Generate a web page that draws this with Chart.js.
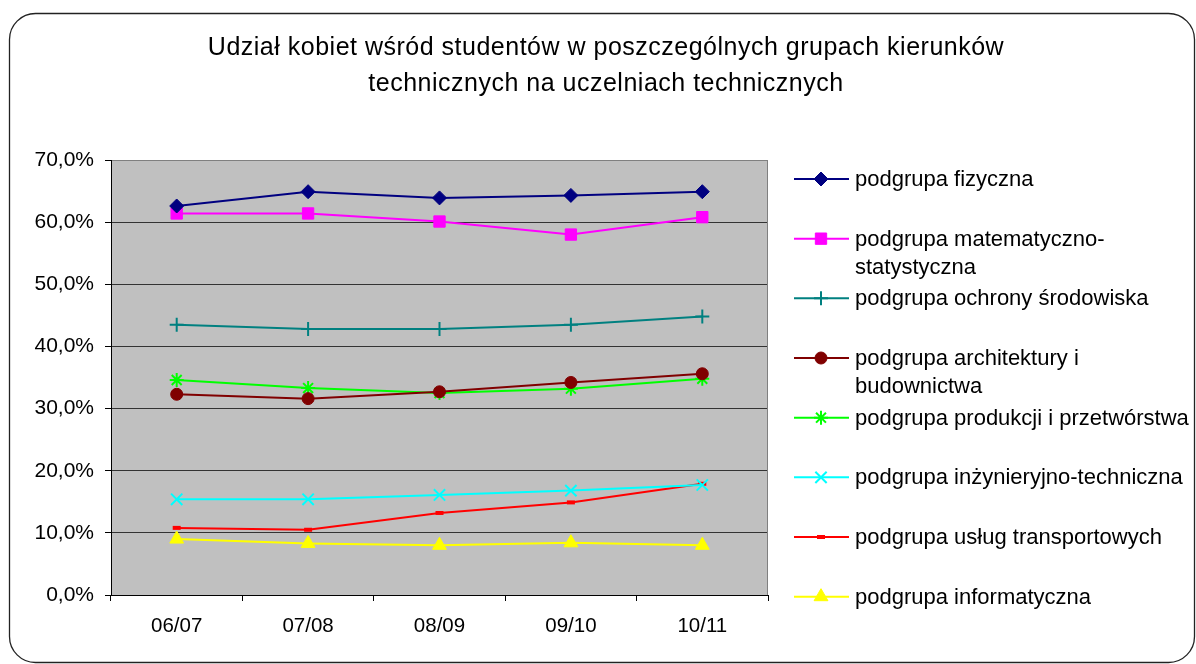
<!DOCTYPE html>
<html>
<head>
<meta charset="utf-8">
<script src="https://cdn.jsdelivr.net/npm/chart.js@4/dist/chart.umd.min.js"></script>
<style>
  html, body { margin: 0; padding: 0; background: #fff; }
  #wrap { width: 1196px; height: 664px; }
</style>
</head>
<body>
<div id="wrap"><canvas id="womenChart" width="1196" height="664"></canvas></div>
<script>
const FONT = "'Liberation Sans', Arial, sans-serif";

const titleLines = [
    'Udział kobiet wśród studentów w poszczególnych grupach kierunków',
    'technicznych na uczelniach technicznych'
];

const categories = ['06/07', '07/08', '08/09', '09/10', '10/11'];
const yTicks = [0, 10, 20, 30, 40, 50, 60, 70];

// udział kobiet w %
const fizyczna = [62.6, 64.9, 63.9, 64.3, 64.9];
const matematyczna = [61.4, 61.4, 60.1, 58.0, 60.8];
const ochronaSrodowiska = [43.5, 42.8, 42.8, 43.5, 44.8];
const architektura = [32.3, 31.6, 32.7, 34.2, 35.6];
const produkcja = [34.6, 33.3, 32.5, 33.2, 34.8];
const inzynieryjna = [15.4, 15.4, 16.1, 16.8, 17.7];
const transport = [10.8, 10.5, 13.2, 14.9, 17.9];
const informatyka = [9.0, 8.3, 8.0, 8.4, 8.0];

const seriesNames = [
    ['podgrupa fizyczna'],
    ['podgrupa matematyczno-', 'statystyczna'],
    ['podgrupa ochrony środowiska'],
    ['podgrupa architektury i', 'budownictwa'],
    ['podgrupa produkcji i przetwórstwa'],
    ['podgrupa inżynieryjno-techniczna'],
    ['podgrupa usług transportowych'],
    ['podgrupa informatyczna']
];

function series(name, data, color, style, radius, bw) {
    return {
        label: name.join(' '),
        lines: name,
        data: data,
        borderColor: color,
        backgroundColor: color,
        borderWidth: 2,
        pointStyle: style,
        pointRadius: radius,
        pointHoverRadius: radius,
        pointBorderWidth: bw,
        pointBackgroundColor: color,
        pointBorderColor: color,
        tension: 0
    };
}

const datasets = [
    series(seriesNames[0], fizyczna, '#000080', 'rectRot', 7, 1),
    series(seriesNames[1], matematyczna, '#FF00FF', 'rect', 8, 1),
    series(seriesNames[2], ochronaSrodowiska, '#008080', 'cross', 7, 2),
    series(seriesNames[3], architektura, '#800000', 'circle', 6, 1),
    series(seriesNames[4], produkcja, '#00FF00', 'star', 7, 2),
    series(seriesNames[5], inzynieryjna, '#00FFFF', 'crossRot', 8, 2),
    series(seriesNames[6], transport, '#FF0000', 'line', 4, 4),
    series(seriesNames[7], informatyka, '#FFFF00', 'triangle', 8, 1)
];

// tło, ramka, tytuł i legenda
const decor = {
    id: 'decor',
    beforeDraw(chart) {
        const { ctx, chartArea: a } = chart;
        ctx.save();
        ctx.fillStyle = '#fff';
        ctx.fillRect(0, 0, chart.width, chart.height);
        ctx.beginPath();
        ctx.roundRect(9.5, 13.5, 1185, 649, 26);
        ctx.strokeStyle = '#222';
        ctx.lineWidth = 1.3;
        ctx.stroke();
        ctx.fillStyle = '#C0C0C0';
        ctx.fillRect(a.left, a.top, a.right - a.left, a.bottom - a.top);
        ctx.restore();
    },
    beforeDatasetsDraw(chart) {
        const { ctx, chartArea: a } = chart;
        ctx.save();
        ctx.strokeStyle = '#808080';
        ctx.lineWidth = 1;
        ctx.beginPath();
        ctx.moveTo(a.right - 0.5, a.top);
        ctx.lineTo(a.right - 0.5, a.bottom);
        ctx.stroke();
        ctx.restore();
    },
    afterDraw(chart) {
        const ctx = chart.ctx;
        ctx.save();
        ctx.fillStyle = '#000';
        ctx.textAlign = 'center';
        ctx.textBaseline = 'middle';
        ctx.font = '25px ' + FONT;
        ctx.letterSpacing = '0.5px';
        titleLines.forEach((t, i) => ctx.fillText(t, 606, 48 + i * 36));

        ctx.textAlign = 'left';
        ctx.letterSpacing = '0px';
        ctx.font = '22px ' + FONT;
        chart.data.datasets.forEach((ds, i) => {
            const y = 179 + i * 59.67;
            ctx.strokeStyle = ds.borderColor;
            ctx.lineWidth = 2;
            ctx.beginPath();
            ctx.moveTo(794, y);
            ctx.lineTo(849, y);
            ctx.stroke();
            ctx.fillStyle = ds.pointBackgroundColor;
            ctx.strokeStyle = ds.pointBorderColor;
            ctx.lineWidth = ds.pointBorderWidth;
            Chart.helpers.drawPoint(ctx, {
                pointStyle: ds.pointStyle,
                radius: ds.pointRadius,
                rotation: 0,
                borderWidth: ds.pointBorderWidth
            }, 821, y);
            ctx.fillStyle = '#000';
            ds.lines.forEach((t, k) => ctx.fillText(t, 855, y + 1 + k * 28));
        });
        ctx.restore();
    }
};

const ctx = document.getElementById('womenChart');
new Chart(ctx, {
    type: 'line',
    data: {
        labels: categories,
        datasets: datasets
    },
    options: {
        responsive: false,
        animation: false,
        layout: {
            padding: { left: 0, right: 428, top: 160, bottom: 0 }
        },
        plugins: {
            legend: { display: false },
            title: { display: false },
            tooltip: { enabled: false }
        },
        scales: {
            x: {
                offset: true,
                afterFit: s => { s.height = 69; },
                grid: {
                    offset: true,
                    drawOnChartArea: false,
                    drawTicks: true,
                    tickLength: 6,
                    tickColor: '#000'
                },
                border: { display: true, color: '#000', width: 1 },
                ticks: {
                    color: '#000',
                    padding: 13,
                    maxRotation: 0,
                    font: { family: FONT, size: 20.5 }
                }
            },
            y: {
                min: 0,
                max: 70,
                afterFit: s => { s.width = 111; },
                afterBuildTicks: s => { s.ticks = yTicks.map(v => ({ value: v })); },
                grid: {
                    color: c => c.tick && c.tick.value === 70 ? '#808080' : '#333',
                    tickColor: '#000',
                    tickLength: 6,
                    lineWidth: 1
                },
                border: { display: true, color: '#000', width: 1 },
                ticks: {
                    color: '#000',
                    padding: 11,
                    font: { family: FONT, size: 21 },
                    callback: v => v.toFixed(1).replace('.', ',') + '%'
                }
            }
        }
    },
    plugins: [decor]
});
</script>
</body>
</html>
